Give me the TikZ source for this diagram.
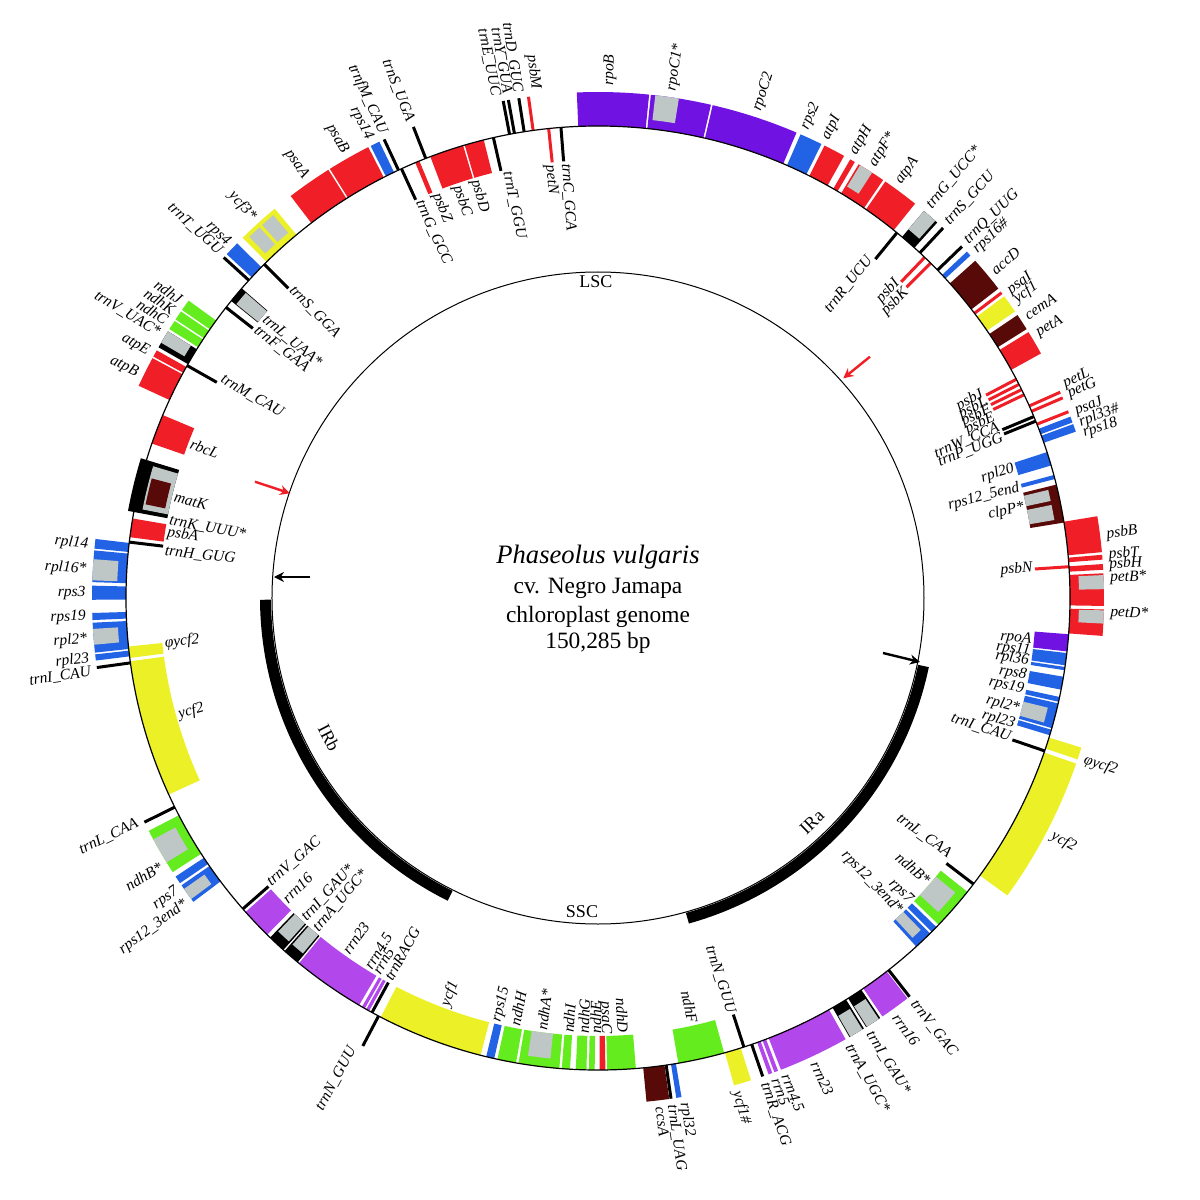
\documentclass[tikz,border=0pt]{standalone}
\usepackage{fontspec}
\setmainfont{Liberation Serif}
\usetikzlibrary{arrows.meta}
\definecolor{cred}{RGB}{240,30,38}
\definecolor{cpur}{RGB}{112,18,226}
\definecolor{cblu}{RGB}{34,98,228}
\definecolor{cgrn}{RGB}{100,236,30}
\definecolor{cyel}{RGB}{236,240,38}
\definecolor{cbrn}{RGB}{88,10,8}
\definecolor{cmag}{RGB}{178,72,236}
\definecolor{cgry}{RGB}{190,198,198}
\newcounter{labc}
\newcommand{\GBox}[5]{\fill[#5] (#1:#3) arc[start angle=#1,end angle=#2,radius=#3] -- (#2:#4) arc[start angle=#2,end angle=#1,radius=#4] -- cycle;}
\newcommand{\GenO}[3]{\GBox{#1}{#2}{472}{506}{#3}}
\newcommand{\GenI}[3]{\GBox{#1}{#2}{438}{472}{#3}}
\newcommand{\IntO}[2]{\GBox{#1}{#2}{481}{506}{cgry}}
\newcommand{\IntI}[2]{\GBox{#1}{#2}{438}{463}{cgry}}
\newcommand{\TrO}[2][black]{\draw[gline,#1] (#2:472) -- (#2:506);}
\newcommand{\TrI}[2][black]{\draw[gline,#1] (#2:438) -- (#2:472);}
\newcommand{\LabO}[2]{\stepcounter{labc}\pgfmathtruncatemacro\flip{((#1)>90)&&((#1)<270)}%
\ifnum\flip=1 \node[glab,anchor=east,rotate=#1-180] (lab\arabic{labc}) at (#1:511) {#2};%
\else \node[glab,anchor=west,rotate=#1] (lab\arabic{labc}) at (#1:511) {#2};\fi}
\newcommand{\LabI}[2]{\stepcounter{labc}\pgfmathtruncatemacro\flip{((#1)>90)&&((#1)<270)}%
\ifnum\flip=1 \node[glab,anchor=west,rotate=#1-180] (lab\arabic{labc}) at (#1:437) {#2};%
\else \node[glab,anchor=east,rotate=#1] (lab\arabic{labc}) at (#1:437) {#2};\fi}
\begin{document}
\begin{tikzpicture}[x=0.5pt,y=0.5pt,
  gline/.style={line width=1.5pt},
  glab/.style={font=\fontsize{7.75pt}{8pt}\selectfont\itshape,inner sep=0.6pt},
  reg/.style={font=\fontsize{9pt}{10pt}\selectfont,inner sep=0pt},
  arr/.style={line width=1.2pt,-{Stealth[length=5pt,width=5pt]}}]
\fill[white] (-598,-602) rectangle (602,598);
\path[use as bounding box] (-598,-602) rectangle (602,598);
% ---------- LSC top ----------
\GenO{84.2}{92.4}{cpur}
\GenO{77.1}{84.0}{cpur}\IntO{80.8}{83.5}
\GenO{66.9}{76.9}{cpur}
\GenO{63.8}{66.4}{cblu}
\GenO{60.9}{63.4}{cred}
\GenO{59.5}{60.1}{cred}
\GenO{55.7}{59.0}{cred}\IntO{57.2}{58.8}
\GenO{51.2}{55.4}{cred}
\GenO{47.9}{49.9}{black}\GBox{48.2}{49.9}{482}{506}{cgry}
\TrO{47.0}
\TrI{50.7}
\TrI[cred]{46.2}\TrI[cred]{45.2}
\TrO{44.0}
\GenO{42.6}{43.2}{cblu}
\GenO{37.7}{41.8}{cbrn}
\TrO[cred]{37.1}
\GenO{34.5}{36.6}{cyel}
\GenO{32.1}{34.0}{cbrn}
\GenO{28.9}{31.7}{cred}
\TrI[cred]{27.6}\TrI[cred]{26.9}\TrI[cred]{26.2}\TrI[cred]{25.5}
\TrO[cred]{24.0}\TrO[cred]{23.3}
\TrI{22.6}\TrI{22.0}
\TrO[cred]{21.6}
\GenO{20.3}{21.0}{cblu}
\GenO{19.2}{20.1}{cblu}
\GenI{16.3}{18.0}{cblu}
\GenI{14.6}{15.1}{cblu}
\GenI{9.2}{13.9}{cbrn}\IntI{12.1}{13.5}\IntI{9.7}{11.6}
\GenO{5.2}{9.3}{cred}
\GenO{4.35}{4.9}{cred}
\GenO{3.2}{3.85}{cred}
\GenO{-0.9}{2.8}{cred}\IntO{1.0}{2.6}
\TrI[cred]{3.8}
\GenO{-4.3}{-1.3}{cred}\IntO{-2.9}{-1.4}
\GenI{-6.5}{-4.4}{cpur}
\GenI{-8.2}{-6.7}{cblu}
\GenI{-8.8}{-8.4}{cblu}
\GenI{-11.2}{-9.6}{cblu}
\GenI{-12.7}{-12.1}{cblu}
\GenI{-16.0}{-12.9}{cblu}\IntI{-15.6}{-13.7}
\GenI{-16.9}{-16.2}{cblu}
% ---------- IRa ----------
\TrI{-18.9}
\GenO{-18.6}{-17.2}{cyel}
\GenO{-36.0}{-19.1}{cyel}
\TrI{-37.3}
\GenI{-43.8}{-38.5}{cgrn}\IntI{-42.7}{-39.5}
\GenI{-45.0}{-44.2}{cblu}
\GenI{-47.6}{-45.3}{cblu}\IntI{-47.2}{-45.8}
\TrO{-52.0}
\GenO{-55.8}{-52.3}{cmag}
\GenO{-58.0}{-56.1}{black}\GBox{-57.9}{-56.3}{482}{506}{cgry}
\GenO{-60.2}{-58.3}{black}\GBox{-60.1}{-58.5}{482}{506}{cgry}
\GenO{-68.8}{-60.7}{cmag}
\GenO{-69.6}{-69.15}{cmag}
\GenO{-70.3}{-69.85}{cmag}
\TrO{-71.0}
\GenO{-74.4}{-72.4}{cyel}
\TrI{-72.0}
% ---------- SSC ----------
\GenI{-80.2}{-74.5}{cgrn}
\GenO{-81.1}{-80.5}{cblu}
\TrO{-81.7}
\GenO{-84.5}{-81.9}{cbrn}
\GenI{-88.9}{-85.4}{cgrn}
\GenI{-89.8}{-89.1}{cred}
\GenI{268.9}{269.6}{cgrn}
\GenI{267.3}{268.6}{cgrn}
\GenI{265.6}{266.6}{cgrn}
\GenI{260.3}{265.3}{cgrn}\IntI{261.3}{264.1}
\GenI{257.7}{260.0}{cgrn}
\GenI{256.3}{257.3}{cblu}
\GenI{242.6}{255.6}{cyel}
% ---------- IRb ----------
\TrO{242.3}
\TrI{241.4}
\GenI{240.6}{241.0}{cmag}
\GenI{240.0}{240.4}{cmag}
\GenI{230.7}{239.6}{cmag}
\GenI{228.4}{230.5}{black}\GBox{228.6}{230.3}{438}{462}{cgry}
\GenI{226.0}{228.2}{black}\GBox{226.2}{228.0}{438}{462}{cgry}
\GenI{221.7}{225.5}{cmag}
\TrI{221.2}
\GenO{214.6}{216.9}{cblu}\IntO{215.1}{216.5}
\GenO{213.4}{214.3}{cblu}
\GenO{207.4}{212.8}{cgrn}\IntO{208.5}{211.5}
\TrO{206.3}
\GenI{187.7}{204.6}{cyel}
\GenI{185.9}{187.3}{cyel}
\TrO{187.9}
% ---------- LSC left ----------
\GenO{186.4}{187.1}{cblu}
\GenO{182.8}{186.2}{cblu}\IntO{183.5}{185.3}
\GenO{181.7}{182.5}{cblu}
\GenO{178.6}{180.2}{cblu}
\GenO{174.6}{178.2}{cblu}\IntO{175.6}{178.0}
\GenO{173.3}{174.4}{cblu}
\TrI{173.2}
\GenI{170.3}{172.6}{cred}
\GBox{163.0}{169.5}{438}{478}{black}
\GBox{163.5}{169.0}{438}{464}{cgry}
\GBox{165.0}{168.3}{442}{462}{cbrn}
\GenI{157.2}{160.9}{cred}
\GenO{151.7}{155.2}{cred}
\GenO{150.7}{151.5}{cred}
\TrI{150.5}
\GenO{148.2}{150.3}{black}\GBox{148.2}{149.7}{479}{506}{cgry}
\GenO{146.8}{147.9}{cgrn}
\GenO{145.5}{146.6}{cgrn}
\GenO{144.0}{145.3}{cgrn}
\TrI{142.0}
\GenI{139.0}{141.0}{black}\GBox{139.1}{140.9}{438}{466}{cgry}
\TrO{137.7}
\GenO{135.5}{137.2}{cblu}
\TrI{135.0}
\GenO{129.7}{134.6}{cyel}\GBox{130.3}{132.0}{479}{502}{cgry}\GBox{132.4}{134.0}{479}{502}{cgry}
\GenO{122.2}{127.4}{cred}
\GenO{117.0}{122.0}{cred}
\GenO{115.6}{116.7}{cblu}
\TrO{115.0}
\TrI{114.6}
\draw[line width=2.2pt,cred] (112.5:438) -- (112.5:472);
\TrO{111.4}
\GenI{106.6}{110.8}{cred}
\GenI{104.0}{106.4}{cred}
\TrI{102.8}
\TrO{100.8}\TrO{100.2}\TrO{99.0}
\TrO[cred]{97.9}
\TrI[cred]{96.0}
\TrI{94.5}
% ---------- circles ----------
\draw[line width=0.6pt] (0,0) circle[radius=472];
\draw[line width=0.5pt] (0,0) circle[radius=326];
\draw[line width=5.5pt] (180.3:332.5) arc[start angle=180.3,end angle=243.6,radius=332.5];
\draw[line width=5.5pt] (285.6:332.5) arc[start angle=285.6,end angle=348.2,radius=332.5];
% ---------- arrows ----------
\coordinate (ba1) at (-288,21); \coordinate (ba2) at (-324,21);
\coordinate (bb1) at (285,-55); \coordinate (bb2) at (322,-64);
\coordinate (ra1) at (272,241.3); \coordinate (ra2) at (245.3,219.7);
\coordinate (rb1) at (-343,116.3); \coordinate (rb2) at (-308,104.7);
\draw[arr] (ba1) -- (ba2);
\draw[arr] (bb1) -- (bb2);
\draw[arr,cred] (ra1) -- (ra2);
\draw[arr,cred] (rb1) -- (rb2);
% ---------- region labels ----------
\node[reg] (lsc) at (-2,316) {LSC};
\node[reg] (ssc) at (-16,-314) {SSC};
\node[reg,rotate=44] (ira) at (214,-224) {IRa};
\node[reg,rotate=-62.5] (irb) at (-269,-140) {IRb};
\node[font=\fontsize{13.3pt}{14pt}\selectfont\itshape] (t1) at (0,41) {Phaseolus vulgaris};
\node[font=\fontsize{11.7pt}{12pt}\selectfont] (t2) at (0,10) {cv. Negro Jamapa};
\node[font=\fontsize{11.7pt}{12pt}\selectfont] (t3) at (0,-19) {chloroplast genome};
\node[font=\fontsize{11.7pt}{12pt}\selectfont] (t4) at (0,-45) {150,285 bp};
% ---------- outside labels ----------
\LabO{88.7}{rpoB}
\LabO{81.7}{rpoC1*}
\LabO{71.9}{rpoC2}
\LabO{66.2}{rps2}
\LabO{63.6}{atpI}
\LabO{60.1}{atpH}
\LabO{57.6}{atpF*}
\LabO{54.1}{atpA}
\LabO{49.8}{trnG\_UCC*}
\LabO{47.1}{trnS\_GCU}
\LabO{44.1}{trnQ\_UUG}
\LabO{42.6}{rps16\#}
\LabO{39.6}{accD}
\LabO{36.7}{psaI}
\LabO{35.5}{ycf1}
\LabO{33.4}{cemA}
\LabO{31.0}{petA}
\LabO{24.6}{petL}
\LabO{23.4}{petG}
\LabO{21.3}{psaJ}
\LabO{20.0}{rpl33\#}
\LabO{18.7}{rps18}
\LabO{7.1}{psbB}
\LabO{4.8}{psbT}
\LabO{3.7}{psbH}
\LabO{2.2}{petB*}
\LabO{-1.7}{petD*}
\LabO{-18.4}{φycf2}
\LabO{-27.6}{ycf2}
\LabO{-52.0}{trnV\_GAC}
\LabO{-54.5}{rrn16}
\LabO{-58.0}{trnI\_GAU*}
\LabO{-60.7}{trnA\_UGC*}
\LabO{-65.0}{rrn23}
\LabO{-68.5}{rrn4.5}
\LabO{-69.7}{rrn5}
\LabO{-71.0}{trnR\_ACG}
\LabO{-74.3}{ycf1\#}
\LabO{-80.3}{rpl32}
\LabO{-81.7}{trnL\_UAG}
\LabO{-83.0}{ccsA}
\LabO{241.4}{trnN\_GUU}
\LabO{216.5}{rps12\_3end*}
\LabO{214.8}{rps7}
\LabO{211.5}{ndhB*}
\LabO{206.0}{trnL\_CAA}
\LabO{188.3}{trnI\_CAU}
\LabO{186.8}{rpl23}
\LabO{184.6}{rpl2*}
\LabO{182.1}{rps19}
\LabO{179.5}{rps3}
\LabO{176.8}{rpl16*}
\LabO{174.0}{rpl14}
\LabO{154.0}{atpB}
\LabO{151.3}{atpE}
\LabO{148.9}{trnV\_UAC*}
\LabO{147.3}{ndhC}
\LabO{145.9}{ndhK}
\LabO{144.5}{ndhJ}
\LabO{137.5}{trnT\_UGU}
\LabO{136.2}{rps4}
\LabO{132.2}{ycf3*}
\LabO{124.8}{psaA}
\LabO{119.6}{psaB}
\LabO{116.5}{rps14}
\LabO{114.8}{trnfM\_CAU}
\LabO{111.5}{trnS\_UGA}
\LabO{101.5}{trnE\_UUC}
\LabO{100.2}{trnY\_GUA}
\LabO{99.0}{trnD\_GUC}
\LabO{97.0}{psbM}
% ---------- inside labels ----------
\LabI{51.4}{trnR\_UCU}
\LabI{46.6}{psbI}
\LabI{44.9}{psbK}
\LabI{28.0}{psbJ}
\LabI{26.8}{psbL}
\LabI{25.7}{psbF}
\LabI{24.5}{psbE}
\LabI{23.1}{trnW\_CCA}
\LabI{21.7}{trnP\_UGG}
\LabI{17.3}{rpl20}
\LabI{14.7}{rps12\_5end}
\LabI{12.0}{clpP*}
\LabI{3.9}{psbN}
\LabI{-5.5}{rpoA}
\LabI{-7.0}{rps11}
\LabI{-8.3}{rpl36}
\LabI{-10.3}{rps8}
\LabI{-12.1}{rps19}
\LabI{-14.75}{rpl2*}
\LabI{-16.9}{rpl23}
\LabI{-18.7}{trnI\_CAU}
\LabI{-36.1}{trnL\_CAA}
\LabI{-40.6}{ndhB*}
\LabI{-44.1}{rps7}
\LabI{-46.1}{rps12\_3end*}
\LabI{-72.2}{trnN\_GUU}
\LabI{-77.4}{ndhF}
\LabI{-86.7}{ndhD}
\LabI{-89.0}{psaC}
\LabI{269.7}{ndhE}
\LabI{268.1}{ndhG}
\LabI{266.1}{ndhI}
\LabI{262.6}{ndhA*}
\LabI{259.0}{ndhH}
\LabI{256.6}{rps15}
\LabI{249.5}{ycf1}
\LabI{241.2}{trnRACG}
\LabI{239.4}{rrn5}
\LabI{238.1}{rrn4.5}
\LabI{234.6}{rrn23}
\LabI{229.6}{trnA\_UGC*}
\LabI{227.5}{trnI\_GAU*}
\LabI{224.0}{rrn16}
\LabI{220.9}{trnV\_GAC}
\LabI{195.6}{ycf2}
\LabI{186.0}{φycf2}
\LabI{173.8}{trnH\_GUG}
\LabI{171.4}{psbA}
\LabI{169.8}{trnK\_UUU*}
\LabI{166.6}{matK}
\LabI{159.2}{rbcL}
\LabI{149.7}{trnM\_CAU}
\LabI{141.8}{trnF\_GAA}
\LabI{140.0}{trnL\_UAA*}
\LabI{134.7}{trnS\_GGA}
\LabI{114.2}{trnG\_GCC}
\LabI{111.8}{psbZ}
\LabI{108.9}{psbC}
\LabI{106.4}{psbD}
\LabI{102.0}{trnT\_GGU}
\LabI{96.4}{petN}
\LabI{94.2}{trnC\_GCA}
\end{tikzpicture}
\end{document}
